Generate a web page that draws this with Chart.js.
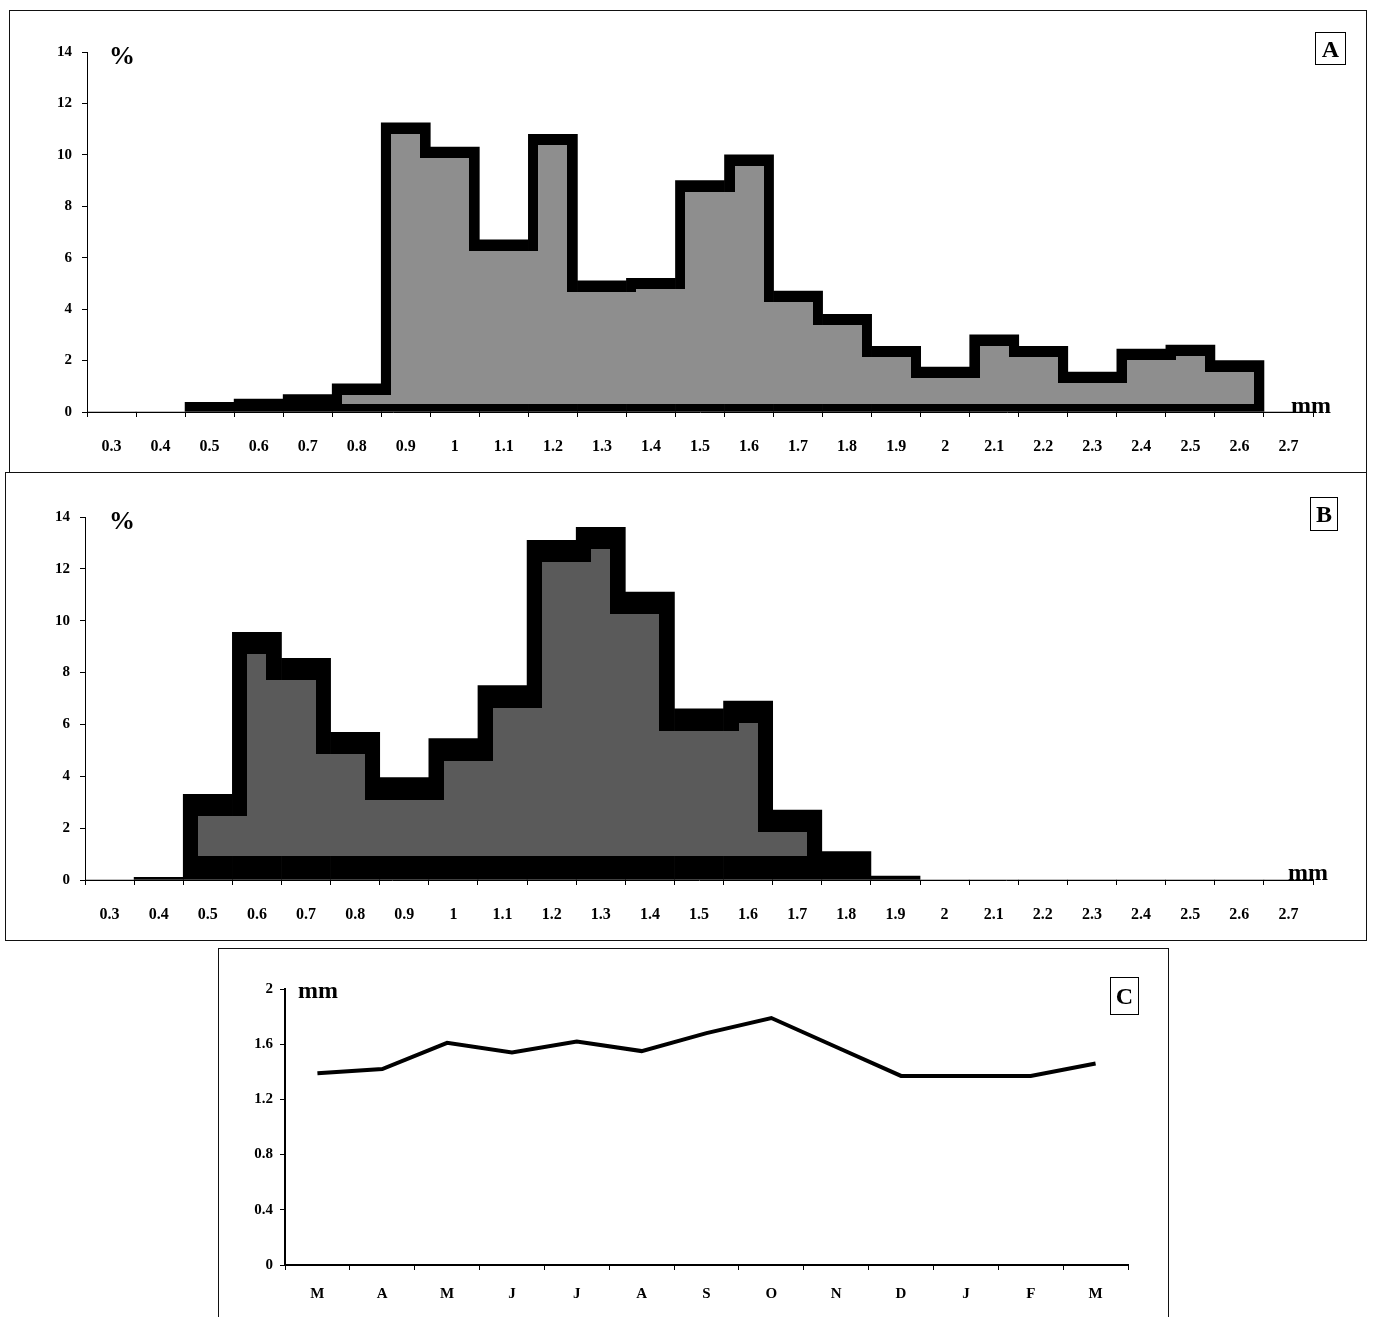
<!DOCTYPE html>
<html>
<head>
<meta charset="utf-8">
<script src="https://cdn.jsdelivr.net/npm/chart.js@4.4.1/dist/chart.umd.min.js"></script>
<style>
  body { margin: 0; background: #fff; width: 1376px; height: 1317px; overflow: hidden; position: relative;
         font-family: 'Liberation Serif', 'Times New Roman', serif; font-weight: bold; color: #000; }
  .frame { position: absolute; border: 1px solid #111; box-sizing: border-box; }
  canvas { position: absolute; }
  .lbl { position: absolute; transform: translate(-50%, -50%); white-space: nowrap; line-height: 1; }
  .box { position: absolute; border: 1px solid #000; box-sizing: border-box; display: flex;
         align-items: center; justify-content: center; font-size: 24px; line-height: 1; }
</style>
</head>
<body>
<div class="frame" style="left:9px;top:10px;width:1358px;height:463px"></div>
<div class="frame" style="left:5px;top:472px;width:1362px;height:469px"></div>
<div class="frame" style="left:218px;top:948px;width:951px;height:420px"></div>

<canvas id="histA" width="1376" height="472" style="left:0;top:0"></canvas>
<canvas id="histB" width="1376" height="467" style="left:0;top:473px"></canvas>
<canvas id="lineC" width="948" height="368" style="left:219px;top:949px"></canvas>

<div class="lbl" style="left:122px;top:56px;font-size:26px">%</div>
<div class="lbl" style="left:1311px;top:405px;font-size:24px">mm</div>
<div class="box" style="left:1315px;top:32px;width:31px;height:33px">A</div>

<div class="lbl" style="left:122px;top:521px;font-size:26px">%</div>
<div class="lbl" style="left:1308px;top:872px;font-size:24px">mm</div>
<div class="box" style="left:1310px;top:497px;width:28px;height:34px">B</div>

<div class="lbl" style="left:318px;top:990px;font-size:24px">mm</div>
<div class="box" style="left:1110px;top:977px;width:29px;height:38px">C</div>

<script>
// size classes (mm), shared by A and B
const sizeLabels = ['0.3', '0.4', '0.5', '0.6', '0.7', '0.8', '0.9', '1', '1.1', '1.2', '1.3', '1.4', '1.5',
  '1.6', '1.7', '1.8', '1.9', '2', '2.1', '2.2', '2.3', '2.4', '2.5', '2.6', '2.7'];

// % per size class
const freqA = [0, 0, 0.38, 0.5, 0.68, 1.1, 11.25, 10.3, 6.7, 10.8, 5.1, 5.2, 9.0,
  10.0, 4.7, 3.8, 2.55, 1.75, 3.0, 2.55, 1.55, 2.45, 2.6, 2.0, 0];
const freqB = [0, 0.1, 3.3, 9.55, 8.55, 5.7, 3.95, 5.45, 7.5, 13.1, 13.6, 11.1, 6.6,
  6.9, 2.7, 1.1, 0.15, 0, 0, 0, 0, 0, 0, 0, 0];
const pctTicks = [0, 2, 4, 6, 8, 10, 12, 14];

// monthly mean size (mm)
const months = ['M', 'A', 'M', 'J', 'J', 'A', 'S', 'O', 'N', 'D', 'J', 'F', 'M'];
const meanSize = [1.39, 1.42, 1.61, 1.54, 1.62, 1.55, 1.68, 1.79, 1.58, 1.37, 1.37, 1.37, 1.46];
const mmTicks = [0, 0.4, 0.8, 1.2, 1.6, 2];

Chart.defaults.font.family = "'Liberation Serif', 'Times New Roman', serif";
Chart.defaults.font.weight = 'bold';
Chart.defaults.color = '#000';
Chart.defaults.animation = false;

// grey inside of the black histogram outline, follows the bar geometry
const innerFill = {
  id: 'innerFill',
  afterDatasetsDraw(chart, args, opts) {
    const bars = chart.getDatasetMeta(0).data;
    const ctx = chart.ctx;
    const tops = bars.map(b => Math.round(b.y + opts.top));
    ctx.save();
    ctx.fillStyle = opts.color;
    bars.forEach((b, i) => {
      const left = Math.round(b.x - b.width / 2);
      const right = Math.round(b.x + b.width / 2);
      const bottom = Math.round(b.base - opts.bottom);
      const g = tops[i];
      if (bottom <= g) return;
      const gl = i > 0 ? tops[i - 1] : Infinity;
      const gr = i < bars.length - 1 ? tops[i + 1] : Infinity;
      const il = gl > g ? opts.side : 0;
      const ir = gr > g ? opts.side : 0;
      ctx.fillRect(left + il, g, right - left - il - ir, bottom - g);
      if (il && gl < bottom) ctx.fillRect(left, gl, il, bottom - gl);
      if (ir && gr < bottom) ctx.fillRect(right - ir, gr, ir, bottom - gr);
    });
    ctx.restore();
  }
};

const makeHistogram = (id, values, axisLeft, top, fill) => {
  new Chart(document.getElementById(id), {
    type: 'bar',
    data: {
      labels: sizeLabels,
      datasets: [{
        data: values,
        backgroundColor: '#000',
        borderWidth: 0,
        categoryPercentage: 1,
        barPercentage: 1,
      }],
    },
    plugins: [innerFill],
    options: {
      responsive: false,
      layout: { padding: { left: 0, top: top, right: 63, bottom: 15 } },
      plugins: {
        legend: { display: false },
        tooltip: { enabled: false },
        innerFill: fill,
      },
      scales: {
        x: {
          afterFit: s => { s.height = 45; },
          grid: { drawOnChartArea: false, color: '#000', tickLength: 5 },
          border: { color: '#000', width: 1 },
          ticks: { font: { size: 16 }, padding: 20, maxRotation: 0, autoSkip: false },
        },
        y: {
          min: 0,
          max: 14,
          afterFit: s => { s.width = axisLeft; },
          afterBuildTicks: s => { s.ticks = pctTicks.map(v => ({ value: v })); },
          grid: { drawOnChartArea: false, color: '#000', tickLength: 5 },
          border: { color: '#000', width: 1 },
          ticks: { font: { size: 15 }, padding: 10, callback: v => `${v}` },
        },
      },
    },
  });
};

makeHistogram('histA', freqA, 87, 52, { color: '#8e8e8e', top: 11, side: 10, bottom: 8 });
makeHistogram('histB', freqB, 85, 44, { color: '#5a5a5a', top: 22, side: 15, bottom: 24 });

new Chart(document.getElementById('lineC'), {
  type: 'line',
  data: {
    labels: months,
    datasets: [{
      data: meanSize,
      borderColor: '#000',
      borderWidth: 4,
      pointRadius: 0,
      tension: 0,
      fill: false,
    }],
  },
  options: {
    responsive: false,
    layout: { padding: { left: 0, top: 40, right: 39, bottom: 12 } },
    plugins: { legend: { display: false }, tooltip: { enabled: false } },
    scales: {
      x: {
        offset: true,
        afterFit: s => { s.height = 40; },
        grid: { offset: true, drawOnChartArea: false, color: '#000', tickLength: 5 },
        border: { color: '#000', width: 2 },
        ticks: { font: { size: 15 }, padding: 15, maxRotation: 0, autoSkip: false },
      },
      y: {
        min: 0,
        max: 2,
        afterFit: s => { s.width = 66; },
        afterBuildTicks: s => { s.ticks = mmTicks.map(v => ({ value: v })); },
        grid: { drawOnChartArea: false, color: '#000', tickLength: 5 },
        border: { color: '#000', width: 2 },
        ticks: { font: { size: 15 }, padding: 7, callback: v => `${v}` },
      },
    },
  },
});
</script>
</body>
</html>
